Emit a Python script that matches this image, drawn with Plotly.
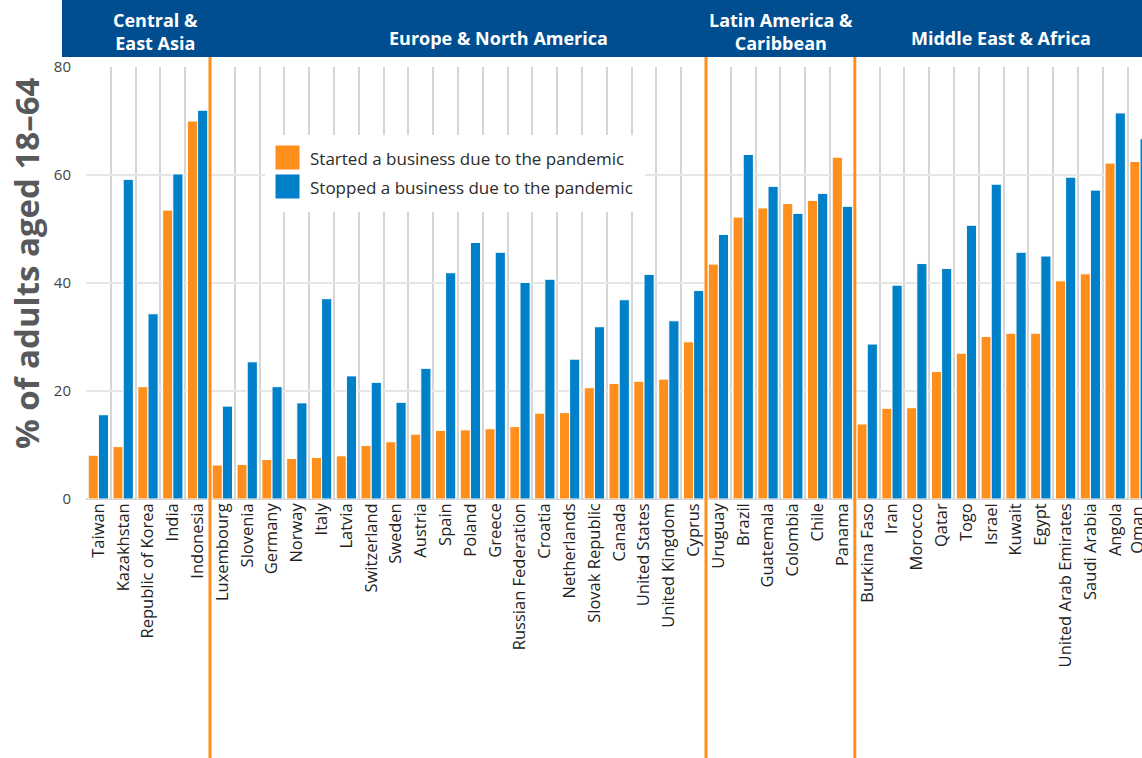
import plotly.graph_objects as go

# ---------------- data ----------------
countries = [
    "Taiwan", "Kazakhstan", "Republic of Korea", "India", "Indonesia",
    "Luxembourg", "Slovenia", "Germany", "Norway", "Italy", "Latvia", "Switzerland",
    "Sweden", "Austria", "Spain", "Poland", "Greece", "Russian Federation", "Croatia",
    "Netherlands", "Slovak Republic", "Canada", "United States", "United Kingdom", "Cyprus",
    "Uruguay", "Brazil", "Guatemala", "Colombia", "Chile", "Panama",
    "Burkina Faso", "Iran", "Morocco", "Qatar", "Togo", "Israel", "Kuwait", "Egypt",
    "United Arab Emirates", "Saudi Arabia", "Angola", "Oman",
]
started = [
    8.1, 9.7, 20.8, 53.5, 70.0,
    6.3, 6.4, 7.3, 7.5, 7.7, 8.0, 9.9, 10.6, 12.0, 12.7, 12.8, 13.0, 13.4, 15.9,
    16.0, 20.6, 21.4, 21.8, 22.2, 29.1,
    43.5, 52.2, 53.9, 54.7, 55.3, 63.3,
    13.9, 16.8, 16.9, 23.6, 27.0, 30.1, 30.7, 30.7, 40.4, 41.7, 62.2, 62.5,
]
stopped = [
    15.6, 59.2, 34.3, 60.2, 72.0,
    17.2, 25.4, 20.8, 17.8, 37.1, 22.8, 21.6, 17.9, 24.2, 41.9, 47.5, 45.7, 40.1, 40.7,
    25.9, 31.9, 36.9, 41.6, 33.0, 38.6,
    49.0, 63.8, 57.9, 52.9, 56.6, 54.2,
    28.7, 39.6, 43.6, 42.7, 50.7, 58.3, 45.7, 45.0, 59.6, 57.2, 71.5, 66.7,
]
region_names = ["Central &<br>East Asia", "Europe & North America",
                "Latin America &<br>Caribbean", "Middle East & Africa"]
region_sizes = [5, 20, 6, 12]
series_names = ["Started a business due to the pandemic",
                "Stopped a business due to the pandemic"]
y_ticks = [0, 20, 40, 60, 80]

# ---------------- style ----------------
ORANGE = "#FF8F1C"
BLUE = "#0080C8"
BANNER = "#004E8F"
FONT = "Open Sans"
TICK_FONT = dict(family=FONT, size=16.5, color="#222222")

x_idx = list(range(len(countries)))

fig = go.Figure()
fig.add_trace(go.Bar(x=x_idx, y=started, name=series_names[0],
                     marker=dict(color=ORANGE, line=dict(color="white", width=1)),
                     showlegend=False))
fig.add_trace(go.Bar(x=x_idx, y=stopped, name=series_names[1],
                     marker=dict(color=BLUE, line=dict(color="white", width=1)),
                     showlegend=False))

W, H = 1142, 758
L, R, T, B = 86, 0, 67, 259
pw, ph = W - L - R, H - T - B
X_MAX = 42.08


def px_x(p):
    return (p - L) / pw


def px_y(p):
    return (H - B - p) / ph


shapes = []
annotations = []

# banner
shapes.append(dict(type="rect", xref="paper", yref="paper",
                   x0=px_x(62), x1=1.0, y0=px_y(57), y1=px_y(-5),
                   fillcolor=BANNER, line=dict(width=0), layer="above"))

# region separators (computed from group sizes)
bounds = []
acc = 0
for s in region_sizes[:-1]:
    acc += s
    bounds.append(acc - 0.5)
for b in bounds:
    shapes.append(dict(type="line", xref="x", yref="paper", x0=b, x1=b,
                       y0=px_y(H + 5), y1=px_y(57),
                       line=dict(color=ORANGE, width=3), layer="above"))

# region labels
label_pos = [(155, 31), (498, 38), (781, 31), (1001, 38)]
for name, (lx, ly) in zip(region_names, label_pos):
    annotations.append(dict(text=f"<b>{name}</b>", xref="paper", yref="paper",
                            x=px_x(lx), y=px_y(ly), xanchor="center", yanchor="middle",
                            showarrow=False, font=dict(family=FONT, size=18, color="white")))

# y title
annotations.append(dict(text="<b>% of adults aged 18–64</b>", xref="paper", yref="paper",
                        x=px_x(26), y=px_y(263), textangle=-90, showarrow=False,
                        xanchor="center", yanchor="middle",
                        font=dict(family=FONT, size=33, color="#58595B")))

# last category label sits on the cropped right edge: draw it as text at its category
annotations.append(dict(text=countries[-1], xref="x", yref="paper",
                        x=x_idx[-1] - 0.15, y=px_y(505), textangle=-90, showarrow=False,
                        xanchor="center", yanchor="top", font=TICK_FONT))

# manual legend
shapes.append(dict(type="rect", xref="paper", yref="paper",
                   x0=px_x(265), x1=px_x(645), y0=px_y(212), y1=px_y(135),
                   fillcolor="white", line=dict(width=0), layer="above"))
for i, (col, name) in enumerate(zip([ORANGE, BLUE], series_names)):
    top = 145 + i * 29
    shapes.append(dict(type="rect", xref="paper", yref="paper",
                       x0=px_x(275), x1=px_x(300), y0=px_y(top + 25), y1=px_y(top),
                       fillcolor=col, line=dict(color="white", width=1), layer="above"))
    annotations.append(dict(text=name, xref="paper", yref="paper",
                            x=px_x(308), y=px_y(top + 13), xanchor="left", yanchor="middle",
                            showarrow=False, font=dict(family=FONT, size=17, color="#2B2B2B")))

fig.update_layout(
    width=W, height=H,
    margin=dict(l=L, r=R, t=T, b=B, pad=0),
    paper_bgcolor="white", plot_bgcolor="white",
    barmode="group", bargap=0.18, bargroupgap=0.0,
    font=dict(family=FONT, color="#333333"),
    shapes=shapes, annotations=annotations,
    showlegend=False,
    xaxis=dict(
        range=[-0.5, X_MAX], autorange=False,
        tickmode="array", tickvals=x_idx, ticktext=countries,
        tickangle=-90, tickfont=TICK_FONT,
        showgrid=False, zeroline=False, showline=False, ticks="",
        minor=dict(tickmode="array", tickvals=[i - 0.5 for i in x_idx],
                   showgrid=True, gridcolor="#D6D6D6", gridwidth=2, ticks=""),
        fixedrange=True,
    ),
    yaxis=dict(
        range=[0, 80], tickvals=y_ticks,
        tickfont=dict(family=FONT, size=15, color="#444444"),
        showgrid=True, gridcolor="#E6E6E6", gridwidth=2,
        zeroline=True, zerolinecolor="#D6D6D6", zerolinewidth=2,
        showline=False, ticks="", ticklabelstandoff=14,
    ),
)

fig.write_html("out.html")
